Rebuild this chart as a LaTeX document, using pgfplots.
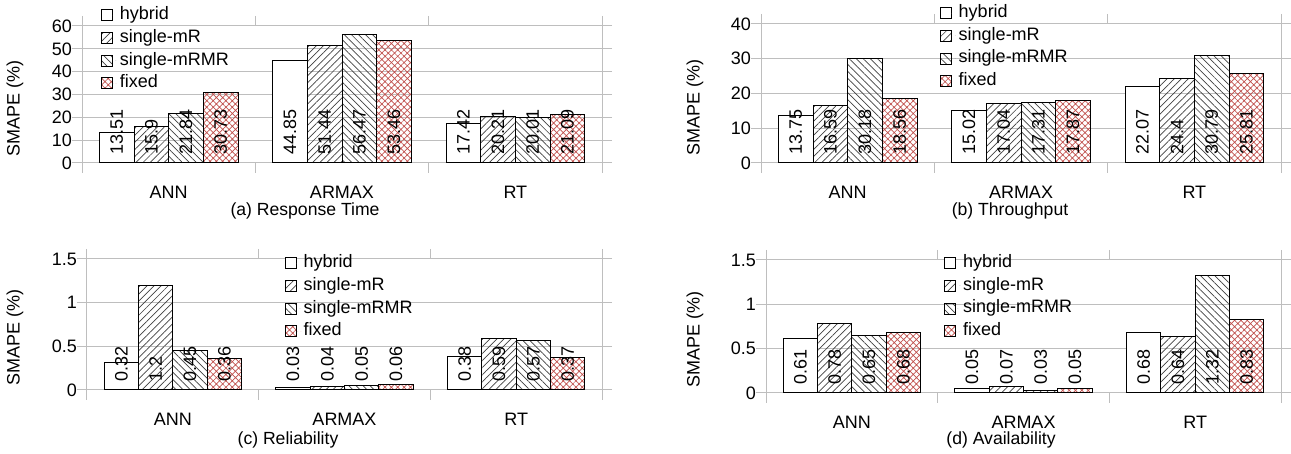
\documentclass[border=0pt]{standalone}
\usepackage{pgfplots}
\pgfplotsset{compat=1.18}
\usetikzlibrary{patterns.meta}
\usepackage{fontspec}
\setmainfont{Liberation Sans}
\definecolor{fixedred}{RGB}{192,80,77}
\definecolor{gridgray}{RGB}{190,190,190}
\newcommand\axisfont{\fontsize{18}{21}\selectfont}
\newcommand\titlefont{\fontsize{17.6}{20}\selectfont}

\pgfplotsset{
  smape/.style={
    scale only axis, width=520pt, anchor=south west,
    ybar=0pt, bar width=0.2,
    xmin=-0.5, xmax=2.5, ymin=0,
    xtick={-0.5,0.5,1.5,2.5}, xticklabels={},
    extra x ticks={0,1,2}, extra x tick labels={ANN,ARMAX,RT},
    extra x tick style={major tick length=0pt},
    tick label style={font=\axisfont},
    label style={font=\axisfont},
    xticklabel style={inner sep=0pt, anchor=north, yshift=-23pt},
    yticklabel style={inner sep=0pt, anchor=east},
    major tick length=10pt, tick align=outside,
    axis line style={gridgray, line width=1pt},
    tick style={gridgray, line width=1pt},
    ymajorgrids, grid style={gridgray, line width=1pt},
    ylabel={SMAPE (\%)},
    /pgf/number format/.cd, fixed, precision=2, assume math mode=true, /pgfplots/.cd,
    nodes near coords, point meta=y,
    visualization depends on=y \as \rawy,
    every node near coord/.append style={shift={(axis direction cs:0,-\rawy)},
      yshift=8pt, rotate=90, anchor=west, inner sep=0pt, black, font=\axisfont},
    legend image code/.code={\draw[##1, line width=0.8pt] (0pt,-5.5pt) rectangle (11pt,5.5pt);
      \path[draw=none] (11pt,0pt) -- (16pt,0pt);},
    legend cell align=left,
    legend style={draw=none, fill=none, inner sep=0pt, anchor=north west, font=\axisfont,
      row sep=0pt, nodes={inner sep=2.25pt, text height=13.5pt, text depth=4.7pt}},
  },
  hyb/.style={draw=black, line width=1pt, fill=white},
  smr/.style={draw=black, line width=1pt, pattern={Lines[angle=45,distance=5pt,line width=0.7pt]}, pattern color=black!75},
  smrmr/.style={draw=black, line width=1pt, pattern={Lines[angle=-45,distance=5pt,line width=0.7pt]}, pattern color=black!75},
  fix/.style={draw=black, line width=1pt, pattern={Hatch[angle=45,distance=4.5pt,line width=0.7pt]}, pattern color=fixedred},
}

\begin{document}
\begin{tikzpicture}
\path[use as bounding box] (0,0) rectangle (1291pt,454pt);

% (a) Response Time
\begin{axis}[smape, at={(82pt,291pt)}, height=137pt, ymax=60, ytick={0,10,...,60},
  ylabel style={at={(axis description cs:-0.129,0.40)}, anchor=center},
  legend style={at={(axis description cs:0.0365,1.163)}}]
\addplot[hyb] coordinates {(0,13.51) (1,44.85) (2,17.42)};
\addplot[smr] coordinates {(0,15.9) (1,51.44) (2,20.21)};
\addplot[smrmr] coordinates {(0,21.84) (1,56.47) (2,20.01)};
\addplot[fix] coordinates {(0,30.73) (1,53.46) (2,21.09)};
\legend{hybrid,single-mR,single-mRMR,fixed}
\end{axis}
\node[font=\titlefont] at (305pt,243pt) {(a) Response Time};

% (b) Throughput
\begin{axis}[smape, at={(761pt,291pt)}, height=139pt, ymax=40, ytick={0,10,...,40},
  ylabel style={at={(axis description cs:-0.127,0.40)}, anchor=center},
  legend style={at={(axis description cs:0.344,1.161)}}]
\addplot[hyb] coordinates {(0,13.75) (1,15.02) (2,22.07)};
\addplot[smr] coordinates {(0,16.59) (1,17.04) (2,24.4)};
\addplot[smrmr] coordinates {(0,30.18) (1,17.31) (2,30.79)};
\addplot[fix] coordinates {(0,18.56) (1,17.87) (2,25.81)};
\legend{hybrid,single-mR,single-mRMR,fixed}
\end{axis}
\node[font=\titlefont] at (1010pt,243pt) {(b) Throughput};

% (c) Reliability
\begin{axis}[smape, at={(87pt,64pt)}, width=515pt, height=131pt, ymax=1.5, ytick={0,0.5,1,1.5},
  ylabel style={at={(axis description cs:-0.14,0.40)}, anchor=center},
  legend style={at={(axis description cs:0.384,1.056)}}]
\addplot[hyb] coordinates {(0,0.32) (1,0.03) (2,0.38)};
\addplot[smr] coordinates {(0,1.2) (1,0.04) (2,0.59)};
\addplot[smrmr] coordinates {(0,0.45) (1,0.05) (2,0.57)};
\addplot[fix] coordinates {(0,0.36) (1,0.06) (2,0.37)};
\legend{hybrid,single-mR,single-mRMR,fixed}
\end{axis}
\node[font=\titlefont] at (288pt,14pt) {(c) Reliability};

% (d) Availability
\begin{axis}[smape, at={(766pt,61pt)}, width=515pt, height=133pt, ymax=1.5, ytick={0,0.5,1,1.5},
  ylabel style={at={(axis description cs:-0.138,0.40)}, anchor=center},
  legend style={at={(axis description cs:0.346,1.063)}}]
\addplot[hyb] coordinates {(0,0.61) (1,0.05) (2,0.68)};
\addplot[smr] coordinates {(0,0.78) (1,0.07) (2,0.64)};
\addplot[smrmr] coordinates {(0,0.65) (1,0.03) (2,1.32)};
\addplot[fix] coordinates {(0,0.68) (1,0.05) (2,0.83)};
\legend{hybrid,single-mR,single-mRMR,fixed}
\end{axis}
\node[font=\titlefont] at (1001pt,14pt) {(d) Availability};
\end{tikzpicture}
\end{document}
